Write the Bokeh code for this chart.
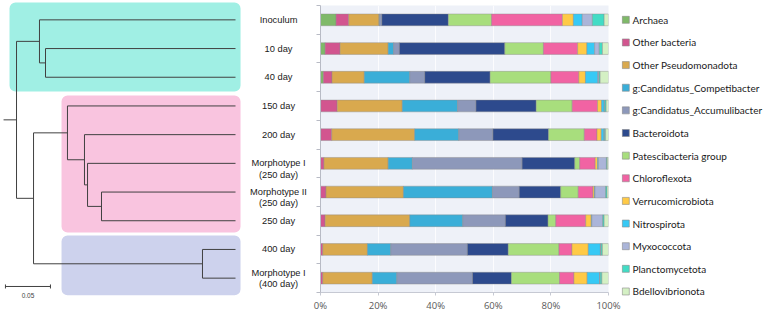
from bokeh.plotting import figure
from bokeh.models import (Range1d, FixedTicker, ColumnDataSource, BoxAnnotation,
                          GlobalInlineStyleSheet)
from bokeh.layouts import row
from bokeh.core.properties import value
from bokeh.embed import file_html
from bokeh.resources import INLINE

# ---------------- data ----------------
samples = ["Inoculum", "10 day", "40 day", "150 day", "200 day",
           "Morphotype I\n(250 day)", "Morphotype II\n(250 day)", "250 day",
           "400 day", "Morphotype I\n(400 day)"]

taxa = ["Archaea", "Other bacteria", "Other Pseudomonadota",
        "g:Candidatus_Competibacter", "g:Candidatus_Accumulibacter",
        "Bacteroidota", "Patescibacteria group", "Chloroflexota",
        "Verrucomicrobiota", "Nitrospirota", "Myxococcota",
        "Planctomycetota", "Bdellovibrionota"]

archaea        = [5.4, 1.6, 1.0, 0.1, 0.1, 0.0, 0.0, 0.0, 0.0, 0.0]
other_bacteria = [4.4, 5.2, 3.0, 5.7, 3.8, 1.2, 1.9, 1.6, 0.8, 0.8]
other_pseudo   = [10.5, 16.7, 11.2, 22.6, 28.8, 22.3, 26.9, 29.4, 15.5, 17.2]
competibacter  = [0.2, 1.9, 15.8, 19.2, 15.3, 8.4, 30.9, 18.4, 8.1, 8.5]
accumulibacter = [0.8, 2.0, 5.2, 6.4, 11.9, 38.1, 9.3, 14.8, 26.6, 26.3]
bacteroidota   = [23.1, 36.6, 22.7, 20.9, 19.3, 18.3, 14.4, 14.8, 14.2, 13.5]
patescibact    = [15.0, 13.4, 21.1, 12.5, 12.4, 1.7, 6.1, 2.7, 17.6, 16.7]
chloroflexota  = [24.6, 11.9, 9.7, 8.8, 4.4, 5.4, 5.1, 10.4, 4.5, 5.0]
verrucomicro   = [3.8, 3.2, 2.3, 1.4, 1.5, 0.8, 0.5, 1.9, 5.7, 4.6]
nitrospirota   = [3.1, 2.7, 4.3, 0.9, 0.9, 0.3, 0.2, 0.2, 4.2, 4.3]
myxococcota    = [3.5, 1.6, 0.4, 0.2, 0.2, 2.8, 3.7, 3.8, 0.2, 0.2]
planctomyc     = [4.1, 1.1, 0.4, 0.5, 0.4, 0.3, 0.5, 0.5, 0.5, 0.6]
bdellovibrio   = [1.5, 2.1, 2.9, 0.8, 1.0, 0.4, 0.5, 1.5, 2.1, 2.3]

series = [archaea, other_bacteria, other_pseudo, competibacter, accumulibacter,
          bacteroidota, patescibact, chloroflexota, verrucomicro, nitrospirota,
          myxococcota, planctomyc, bdellovibrio]

colors = ["#7fb969", "#d2558f", "#d9a94e", "#3aaed8", "#8d98ba", "#2d4a8d",
          "#a8de7d", "#f163a3", "#ffca46", "#37c9f5", "#abb5d9", "#42dcc5",
          "#d4f0c4"]

x_ticks = [0, 20, 40, 60, 80, 100]
x_tick_labels = ["0%", "20%", "40%", "60%", "80%", "100%"]

# dendrogram: (node height, [children]); leaves are row indices
tree = (0.2433, [(0.2178, [0, (0.2111, [1, 2])]),
                 (0.2244, [(0.1867, [3, (0.1678, [4, (0.1644, [5, (0.1489, [6, 7])])])]),
                           (0.0367, [8, 9])])])
root_stub = 0.0144
scale_len = 0.05
scale_label = "0.05"

# clusters: (first row, last row, left edge height, pad top, pad bottom, colour)
clusters = [(0, 2, 0.2511, 0.605, 0.497, "#a0efe4"),
            (3, 7, 0.1933, 0.364, 0.409, "#f9c4df"),
            (8, 9, 0.1933, 0.486, 0.600, "#cdd2ed")]

label_shift = [0, 0, 0, 0, 0, 0, 0, 0, 0, -5.5]

H = 312
tree_w = 308
bar_left = 12
bar_frame_w = 288
bar_right = 13
leg_w = 767 - tree_w - bar_left - bar_frame_w - bar_right

# ---------------- dendrogram figure ----------------
tp = figure(width=tree_w, height=H, output_backend="svg", toolbar_location=None,
            title=None, x_axis_location=None, y_axis_location=None,
            x_range=Range1d(0.2611, -0.0811), y_range=Range1d(10.197, -0.6742),
            min_border=0, min_border_left=0, min_border_right=0,
            min_border_top=0, min_border_bottom=0)
tp.frame_align = False
tp.grid.visible = False
tp.outline_line_color = None
tp.background_fill_color = "white"
tp.border_fill_color = "white"

for (r0, r1, lh, pt, pb, col) in clusters:
    tp.add_layout(BoxAnnotation(left=lh, right=-0.0056, top=r0 - pt, bottom=r1 + pb,
                                fill_color=col, fill_alpha=1.0, line_color=None,
                                border_radius=6, level="underlay"))

hx0, hx1, hy, vx, vy0, vy1 = [], [], [], [], [], []


def walk(node):
    if isinstance(node, int):
        return 0.0, float(node)
    h, kids = node
    ys = []
    for k in kids:
        kh, ky = walk(k)
        hx0.append(h); hx1.append(kh); hy.append(ky)
        ys.append(ky)
    vx.append(h); vy0.append(min(ys)); vy1.append(max(ys))
    return h, (min(ys) + max(ys)) / 2.0


rh, ry = walk(tree)
hx0.append(rh); hx1.append(rh + root_stub); hy.append(ry)

lc = "#404040"
tp.segment(x0=hx0, y0=hy, x1=hx1, y1=hy, line_color=lc, line_width=1)
tp.segment(x0=vx, y0=vy0, x1=vx, y1=vy1, line_color=lc, line_width=1)

# scale bar
sb_x0 = 0.2556
sb_y = 9.29
tp.segment(x0=[sb_x0], y0=[sb_y], x1=[sb_x0 - scale_len], y1=[sb_y], line_color=lc, line_width=1)
tp.segment(x0=[sb_x0, sb_x0 - scale_len], y0=[sb_y - 0.07, sb_y - 0.07],
           x1=[sb_x0, sb_x0 - scale_len], y1=[sb_y + 0.07, sb_y + 0.07],
           line_color=lc, line_width=1)
tp.text(x=[sb_x0 - scale_len / 2], y=[sb_y + 0.3], text=[scale_label],
        text_font=value("Liberation Sans"), text_font_size="6.5px",
        text_color="#444444", text_align="center", text_baseline="middle")

# sample labels
lab_x = -0.0478
l1x, l1y, l1t, l1o = [], [], [], []
for i, s in enumerate(samples):
    parts = s.split("\n")
    for j, part in enumerate(parts):
        l1x.append(lab_x); l1y.append(i); l1t.append(part)
        l1o.append(label_shift[i] + 11.3 * j)
lsrc = ColumnDataSource(dict(x=l1x, y=l1y, text=l1t, off=l1o))
tp.text(x="x", y="y", text="text", y_offset="off", source=lsrc,
        text_font=value("Liberation Sans"), text_font_size="9.3px",
        text_color="#1a1a1a", text_align="center", text_baseline="middle")

# ---------------- bar figure ----------------
src = ColumnDataSource(dict(row=list(range(len(samples))),
                            **{t: v for t, v in zip(taxa, series)}))

bp = figure(frame_width=bar_frame_w, frame_height=287, output_backend="svg",
            toolbar_location=None, title=None,
            x_range=Range1d(0, 100), y_range=Range1d(9.5, -0.5),
            min_border_left=bar_left, min_border_right=bar_right,
            min_border_top=5, min_border_bottom=20)
bp.frame_align = False
bp.background_fill_color = "#eef1f8"
bp.border_fill_color = "white"
bp.outline_line_color = None

rends = bp.hbar_stack(taxa, y="row", height=0.41, color=colors, source=src,
                      line_color="#8a8a8a", line_width=0.6, line_alpha=0.7)

bp.xaxis.ticker = FixedTicker(ticks=x_ticks)
bp.xaxis.major_label_overrides = {t: l for t, l in zip(x_ticks, x_tick_labels)}
bp.xaxis.major_label_text_font = "Open Sans"
bp.xaxis.major_label_text_font_size = "9.5px"
bp.xaxis.major_label_text_color = "#595959"
bp.xaxis.major_label_standoff = 3
bp.xaxis.axis_line_color = "#c6c9d3"
bp.xaxis.major_tick_line_color = "#c6c9d3"
bp.xaxis.major_tick_out = 3
bp.xaxis.major_tick_in = 0
bp.xaxis.minor_tick_line_color = None

bounds = [i - 0.5 for i in range(len(samples) + 1)]
bp.yaxis.ticker = FixedTicker(ticks=bounds)
bp.yaxis.major_label_overrides = {b: "" for b in bounds}
bp.yaxis.major_label_text_font_size = "0px"
bp.yaxis.major_label_standoff = 0
bp.yaxis.axis_line_color = "#b8bbc5"
bp.yaxis.major_tick_line_color = "#b8bbc5"
bp.yaxis.major_tick_out = 4
bp.yaxis.major_tick_in = 0
bp.yaxis.minor_tick_line_color = None

bp.xgrid.ticker = FixedTicker(ticks=x_ticks)
bp.xgrid.grid_line_color = "white"
bp.xgrid.grid_line_alpha = 0.8
bp.ygrid.grid_line_color = None

# ---------------- legend figure ----------------
leg_first = 19.3
leg_pitch = 22.64
lsrc2 = ColumnDataSource(dict(
    y=[leg_first + leg_pitch * i for i in range(len(taxa))],
    sx=[4.3] * len(taxa), tx=[11.0] * len(taxa),
    label=taxa, color=colors))
lp = figure(width=leg_w, height=H, output_backend="svg", toolbar_location=None,
            title=None, x_axis_location=None, y_axis_location=None,
            x_range=Range1d(0, leg_w), y_range=Range1d(H, 0),
            min_border=0, min_border_left=0, min_border_right=0,
            min_border_top=0, min_border_bottom=0)
lp.frame_align = False
lp.grid.visible = False
lp.outline_line_color = None
lp.scatter(x="sx", y="y", marker="square", size=7, fill_color="color",
           line_color="#8a8a8a", line_width=0.6, source=lsrc2)
lp.text(x="tx", y="y", text="label", source=lsrc2,
        text_font=value("Lato"), text_font_size="10px", text_color="#1a1a1a",
        text_align="left", text_baseline="middle")

layout = row(tp, bp, lp, spacing=0)
layout.stylesheets = [GlobalInlineStyleSheet(css="html, body { margin: 0 !important; padding: 0; overflow: hidden; }")]

open("out.html", "w").write(file_html(layout, INLINE))
